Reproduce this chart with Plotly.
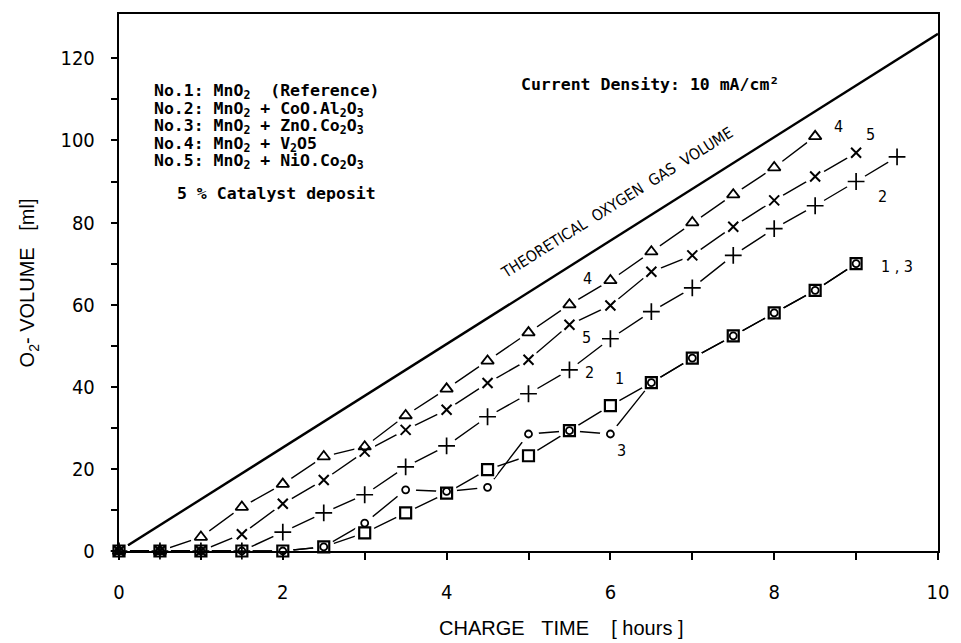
import plotly.graph_objects as go

# ---------------- data ----------------
hours_no4 = [0, 0.5, 1, 1.5, 2, 2.5, 3, 3.5, 4, 4.5, 5, 5.5, 6, 6.5, 7, 7.5, 8, 8.5]
vol_no4 = [0, 0, 3.4, 10.7, 16.3, 23.0, 25.4, 33.0, 39.5, 46.3, 53.2, 60.0, 65.9, 72.9, 80.0, 86.8, 93.4, 101.0]

hours_no5 = [0, 0.5, 1, 1.5, 2, 2.5, 3, 3.5, 4, 4.5, 5, 5.5, 6, 6.5, 7, 7.5, 8, 8.5, 9]
vol_no5 = [0, 0, 0, 4.1, 11.5, 17.3, 24.2, 29.5, 34.4, 40.9, 46.6, 55.1, 59.8, 68.0, 72.0, 79.0, 85.4, 91.2, 97.0]

hours_no2 = [0, 0.5, 1, 1.5, 2, 2.5, 3, 3.5, 4, 4.5, 5, 5.5, 6, 6.5, 7, 7.5, 8, 8.5, 9, 9.5]
vol_no2 = [0, 0, 0, 0, 4.6, 9.3, 13.7, 20.5, 25.6, 32.7, 38.3, 44.1, 51.7, 58.3, 64.1, 72.0, 78.5, 84.1, 90.0, 96.0]

hours_no1 = [0, 0.5, 1, 1.5, 2, 2.5, 3, 3.5, 4, 4.5, 5, 5.5, 6, 6.5, 7, 7.5, 8, 8.5, 9]
vol_no1 = [0, 0, 0, 0, 0, 1.0, 4.4, 9.3, 14.1, 19.8, 23.2, 29.3, 35.4, 41.0, 47.0, 52.4, 58.0, 63.5, 70.0]

hours_no3 = [0, 0.5, 1, 1.5, 2, 2.5, 3, 3.5, 4, 4.5, 5, 5.5, 6, 6.5, 7, 7.5, 8, 8.5, 9]
vol_no3 = [0, 0, 0, 0, 0, 1.0, 6.8, 14.9, 14.5, 15.5, 28.5, 29.3, 28.5, 41.0, 47.0, 52.4, 58.0, 63.5, 70.0]

theory_hours = [0, 10]
theory_vol = [0, 126]

x_tickvals = [0, 1, 2, 3, 4, 5, 6, 7, 8, 9, 10]
x_ticktext = ["0", "", "2", "", "4", "", "6", "", "8", "", "10"]
y_tickvals = [0, 10, 20, 30, 40, 50, 60, 70, 80, 90, 100, 110, 120]
y_ticktext = ["0", "", "20", "", "40", "", "60", "", "80", "", "100", "", "120"]

legend_lines = [
    "No.1:\u00a0MnO<sub>2</sub>\u00a0\u00a0(Reference)",
    "No.2:\u00a0MnO<sub>2</sub>\u00a0+\u00a0CoO.Al<sub>2</sub>O<sub>3</sub>",
    "No.3:\u00a0MnO<sub>2</sub>\u00a0+\u00a0ZnO.Co<sub>2</sub>O<sub>3</sub>",
    "No.4:\u00a0MnO<sub>2</sub>\u00a0+\u00a0V<sub>2</sub>O5",
    "No.5:\u00a0MnO<sub>2</sub>\u00a0+\u00a0NiO.Co<sub>2</sub>O<sub>3</sub>",
]
legend_y = [112.0, 107.6, 103.4, 99.0, 94.9]

# series labels: (text, hour, volume)
series_labels = [
    ("4", 0.5, -5.2), ("5", 1.0, -5.2), ("2", 1.5, -5.2), ("1 , 3", 2.55, -5.2),
    ("4", 5.72, 66.3), ("5", 5.71, 52.0), ("2", 5.74, 43.4),
    ("1", 6.11, 42.0), ("3", 6.14, 24.4),
    ("4", 8.79, 103.4), ("5", 9.18, 101.5), ("2", 9.32, 86.3), ("1 , 3", 9.5, 69.3),
]

series = [
    (hours_no4, vol_no4, dict(symbol="triangle-up-open", size=11, color="black", line=dict(color="black", width=1.8))),
    (hours_no5, vol_no5, dict(symbol="x-thin", size=10, color="black", line=dict(color="black", width=2))),
    (hours_no2, vol_no2, dict(symbol="cross-thin", size=12, color="black", line=dict(color="black", width=1.7))),
    (hours_no1, vol_no1, dict(symbol="square-open", size=11, color="black", line=dict(color="black", width=2.2))),
    (hours_no3, vol_no3, dict(symbol="circle-open", size=7, color="black", line=dict(color="black", width=1.8))),
]

fig = go.Figure()

# theoretical line
fig.add_trace(go.Scatter(x=theory_hours, y=theory_vol, mode="lines",
                         line=dict(color="black", width=2.4), showlegend=False, hoverinfo="skip"))

# connecting lines
for hx, vy, m in series:
    fig.add_trace(go.Scatter(x=hx, y=vy, mode="lines", line=dict(color="black", width=1.4),
                             showlegend=False, hoverinfo="skip", cliponaxis=False))
# white masks giving the gaps around markers
for hx, vy, m in series:
    fig.add_trace(go.Scatter(x=hx, y=vy, mode="markers",
                             marker=dict(symbol="circle", size=21, color="white", line=dict(width=0)),
                             showlegend=False, hoverinfo="skip", cliponaxis=False))
# markers
for hx, vy, m in series:
    fig.add_trace(go.Scatter(x=hx, y=vy, mode="markers", marker=m,
                             showlegend=False, cliponaxis=False))

sans = "Liberation Sans Narrow, DejaVu Sans Condensed, Liberation Sans, Arial"
tick_font = dict(family=sans, size=20, color="black")
mono = "DejaVu Sans Mono, Liberation Mono, monospace"
mono_size = 16.5

annotations = []
for txt, yy in zip(legend_lines, legend_y):
    annotations.append(dict(x=0.40, y=yy, xref="x", yref="y", text="<b>" + txt + "</b>", showarrow=False,
                            xanchor="left", yanchor="middle",
                            font=dict(family=mono, size=mono_size, color="black")))
annotations.append(dict(x=0.68, y=87.2, xref="x", yref="y",
                        text="<b>5\u00a0%\u00a0Catalyst\u00a0deposit</b>", showarrow=False,
                        xanchor="left", yanchor="middle", font=dict(family=mono, size=mono_size, color="black")))
annotations.append(dict(x=4.88, y=113.7, xref="x", yref="y",
                        text="<b>Current\u00a0Density:\u00a010\u00a0mA/cm\u00b2</b>", showarrow=False,
                        xanchor="left", yanchor="middle", font=dict(family=mono, size=mono_size, color="black")))
annotations.append(dict(x=6.08, y=84.8, xref="x", yref="y",
                        text="THEORETICAL\u00a0\u00a0OXYGEN\u00a0\u00a0GAS\u00a0\u00a0VOLUME", showarrow=False,
                        textangle=-32, xanchor="center", yanchor="middle",
                        font=dict(family=sans, size=15.5, color="black")))
for txt, hx, vy in series_labels:
    annotations.append(dict(x=hx, y=vy, xref="x", yref="y", text=txt, showarrow=False,
                            xanchor="center", yanchor="middle",
                            font=dict(family=sans, size=16, color="black")))
# axis titles
annotations.append(dict(x=0.54, y=-0.143, xref="paper", yref="paper",
                        text="CHARGE\u00a0\u00a0\u00a0TIME\u00a0\u00a0\u00a0\u00a0[\u00a0hours\u00a0]", showarrow=False,
                        xanchor="center", yanchor="middle",
                        font=dict(family="Liberation Sans, Arial", size=20, color="black")))
annotations.append(dict(x=-0.11, y=0.5, xref="paper", yref="paper",
                        text="O<sub>2</sub>-\u00a0VOLUME\u00a0\u00a0\u00a0[ml]", showarrow=False,
                        textangle=-90, xanchor="center", yanchor="middle",
                        font=dict(family="Liberation Sans, Arial", size=20, color="black")))

fig.update_layout(
    width=961, height=643,
    margin=dict(l=119, r=14, t=14, b=92),
    paper_bgcolor="white", plot_bgcolor="white",
    showlegend=False,
    annotations=annotations,
    xaxis=dict(range=[0, 10], tickvals=x_tickvals, ticktext=x_ticktext, ticks="outside",
               ticklen=7, tickwidth=1.5, tickcolor="black", showline=True, linewidth=2,
               linecolor="black", mirror=True, showgrid=False, zeroline=False,
               tickfont=tick_font, ticklabelstandoff=15),
    yaxis=dict(range=[0, 130.8], tickvals=y_tickvals, ticktext=y_ticktext, ticks="outside",
               ticklen=6, tickwidth=1.5, tickcolor="black", showline=True, linewidth=2.4,
               linecolor="black", mirror=True, showgrid=False, zeroline=False,
               tickfont=tick_font, ticklabelstandoff=12),
)

fig.write_html("out.html")
